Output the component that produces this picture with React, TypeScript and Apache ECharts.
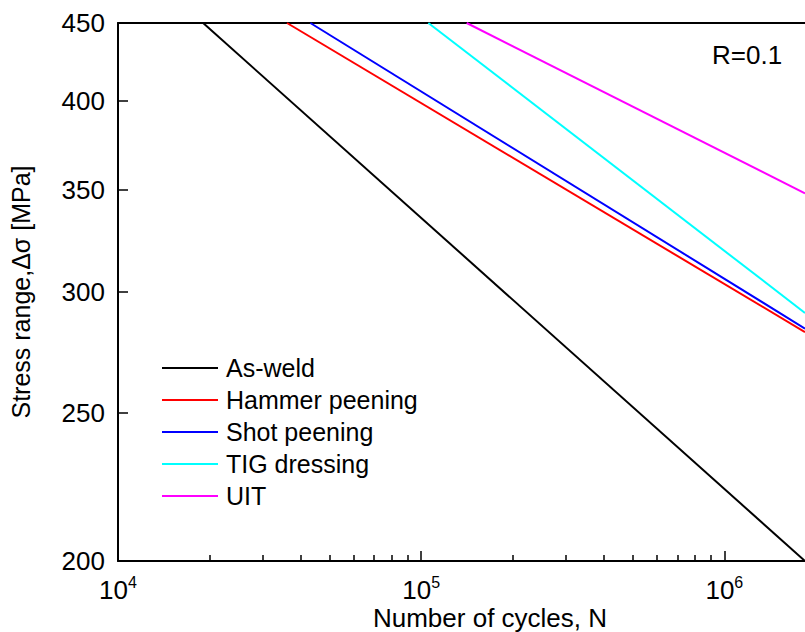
import React, { useEffect, useRef } from "react";
import * as echarts from "echarts";

const seriesNames = ["As-weld", "Hammer peening", "Shot peening", "TIG dressing", "UIT"];
const asWeld: [number, number][] = [[1.909e4, 450], [1.845e6, 200]];
const hammerPeening: [number, number][] = [[3.61e4, 450], [1.845e6, 282.4]];
const shotPeening: [number, number][] = [[4.31e4, 450], [1.845e6, 283.9]];
const tigDressing: [number, number][] = [[1.056e5, 450], [1.845e6, 290.7]];
const uit: [number, number][] = [[1.413e5, 450], [1.845e6, 348.1]];

const yTicks = [200, 250, 300, 350, 400, 450];
const xMajorTicks = [1e4, 1e5, 1e6];
const xMinorTicks = [2e4, 3e4, 4e4, 5e4, 6e4, 7e4, 8e4, 9e4, 2e5, 3e5, 4e5, 5e5, 6e5, 7e5, 8e5, 9e5];
const xMin = 1e4;
const xMax = 1.845e6;
const yMin = 200;
const yMax = 450;
const annotation = "R=0.1";

const FONT = 'Arial, "Liberation Sans", sans-serif';

export default function App() {
  const ref = useRef<HTMLDivElement>(null);
  useEffect(() => {
    if (!ref.current) return;
    const chart = echarts.init(ref.current, undefined, { renderer: "svg" });
    const colors = ["#000000", "#ff0000", "#0000ff", "#00ffff", "#ff00ff"];
    const datasets = [asWeld, hammerPeening, shotPeening, tigDressing, uit];
    chart.setOption({
      animation: false,
      backgroundColor: "#ffffff",
      textStyle: { fontFamily: FONT },
      grid: { left: 116, top: 23, right: 0, bottom: 71, containLabel: false },
      xAxis: [
        {
          type: "log",
          min: xMin,
          max: xMax,
          position: "bottom",
          axisLine: { show: true, lineStyle: { color: "#000", width: 2 } },
          axisTick: { show: true, inside: true, length: 10, lineStyle: { color: "#000", width: 1.5 }, customValues: xMajorTicks },
          axisLabel: {
            show: true,
            margin: 19,
            customValues: xMajorTicks,
            formatter: (v: number) => `{b|10}{s|${Math.round(Math.log10(v))}}`,
            rich: {
              b: { fontSize: 26, fontFamily: FONT, color: "#000", lineHeight: 20 },
              s: { fontSize: 16, fontFamily: FONT, color: "#000", lineHeight: 4, padding: [0, 0, 16, 0] },
            },
          },
          splitLine: { show: false },
        },
        {
          type: "log",
          min: xMin,
          max: xMax,
          position: "bottom",
          axisLine: { show: false },
          axisTick: { show: true, inside: true, length: 6, lineStyle: { color: "#000", width: 1.5 }, customValues: xMinorTicks },
          axisLabel: { show: false },
          splitLine: { show: false },
        },
        {
          type: "log",
          min: xMin,
          max: xMax,
          position: "top",
          axisLine: { show: true, lineStyle: { color: "#000", width: 2 } },
          axisTick: { show: false },
          axisLabel: { show: false },
          splitLine: { show: false },
        },
      ],
      yAxis: {
        type: "log",
        min: yMin,
        max: yMax,
        name: "Stress range,\u0394\u03c3 [MPa]",
        nameLocation: "middle",
        nameGap: 85,
        nameTextStyle: { fontSize: 25, fontFamily: FONT, color: "#000" },
        axisLine: { show: true, lineStyle: { color: "#000", width: 2 } },
        axisTick: { show: true, inside: true, length: 10, lineStyle: { color: "#000", width: 1.5 }, customValues: yTicks },
        axisLabel: { show: true, margin: 13, fontSize: 26, color: "#000", fontFamily: FONT, customValues: yTicks },
        splitLine: { show: false },
      },
      legend: {
        orient: "vertical",
        left: 162,
        top: 355,
        padding: 0,
        itemWidth: 56,
        itemHeight: 2,
        itemGap: 6,
        icon: "rect",
        data: seriesNames,
        textStyle: { fontSize: 25, fontFamily: FONT, color: "#000", lineHeight: 26, padding: [0, 0, 0, 3] },
      },
      graphic: [
        {
          type: "text",
          left: 712,
          top: 42,
          style: { text: annotation, fontSize: 26, fontFamily: FONT, fill: "#000" },
        },
        {
          type: "text",
          x: 490,
          y: 618,
          style: { text: "Number of cycles, N", fontSize: 26, fontFamily: FONT, fill: "#000", align: "center", verticalAlign: "middle" },
        },
      ],
      series: datasets.map((d, i) => ({
        name: seriesNames[i],
        type: "line",
        xAxisIndex: 0,
        yAxisIndex: 0,
        data: d,
        symbol: "none",
        color: colors[i],
        lineStyle: { color: colors[i], width: 2 },
        clip: true,
      })),
    });
    return () => chart.dispose();
  }, []);
  return <div ref={ref} style={{ position: "fixed", left: 0, top: 0, width: 805, height: 632 }} />;
}
